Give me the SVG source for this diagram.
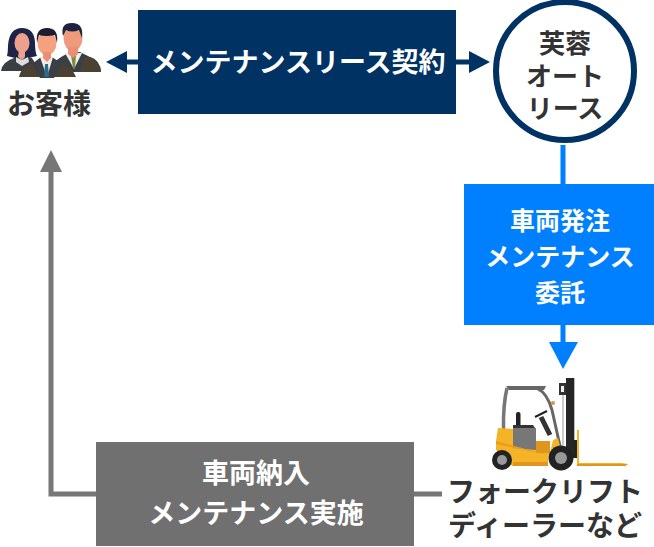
<svg xmlns="http://www.w3.org/2000/svg" width="654" height="547" viewBox="0 0 654 547">
<style>
text{font-family:"Noto Sans CJK JP","Noto Sans",sans-serif;font-weight:700;font-size:27px;text-anchor:middle}
.d{fill:#333}.w{fill:#fff}
.s25{font-size:25px}.s26{font-size:26px}.s28{font-size:28px}
</style>
<rect width="654" height="547" fill="#fff"/>
<g id="connectors" fill="none">
<path d="M138 62H122" stroke="#003264" stroke-width="5"/><path d="M106 62L127 51V73Z" fill="#003264"/>
<path d="M456 62H475" stroke="#003264" stroke-width="5"/><path d="M490 62L469 51V73Z" fill="#003264"/>
<path d="M563 145V350" stroke="#0080ff" stroke-width="5"/><path d="M563 369L549 342H578Z" fill="#0080ff"/>
<path d="M442 494H51V170" stroke="#777" stroke-width="5"/><path d="M51 150L40 172H62Z" fill="#777"/>
</g>
<g id="customer">
<path d="M1 71Q2 62 14 58L22 55L32 58L40 71Z" fill="#3a3f44"/>
<path d="M8 46Q9 28 22 28Q34 28 35 42Q35 52 37 56L28 58H15L7 56Q8 52 8 46Z" fill="#1f2347"/>
<ellipse cx="22" cy="43" rx="7.5" ry="10" fill="#eda18d"/>
<path d="M19 50H25V57L22 60L18 57Z" fill="#eda18d"/>
<path d="M16 57L22 60L28 57L29 62L22 66L16 62Z" fill="#dcdcdc"/>
<path d="M54 62Q62 56 70 52H80L90 57Q100 60 101 72H54Z" fill="#3a3f44"/>
<path d="M84 58L90 57Q100 60 101 72H80Z" fill="#4a4133"/>
<path d="M65 53L74 69L82 53Z" fill="#eee"/>
<path d="M71 55L73 68L75 68L76 55Z" fill="#7d8c3a"/>
<ellipse cx="73" cy="38" rx="9.5" ry="13" fill="#f09a7c"/>
<path d="M63 36Q60 23 72 23Q84 23 82 38L79 30Q72 33 66 30Z" fill="#1e2140"/>
<path d="M68 47H78V54L73 58L68 54Z" fill="#ea8f73"/>
<path d="M19 77Q21 66 36 62L46 58L58 62Q72 66 76 77Z" fill="#4a4133"/>
<path d="M32 64L41 57H52L62 64L54 78H40Z" fill="#3a3f44"/>
<path d="M40 57L47 77L53 57Z" fill="#eee"/>
<path d="M45 64H48L49 77H44Z" fill="#2a6c8e"/>
<ellipse cx="47" cy="43" rx="9.5" ry="12" fill="#f5a07f"/>
<path d="M37 43Q35 28 47 28Q59 28 57 43L55 35Q46 37 39 35Z" fill="#1b1d30"/>
<path d="M43 52H51V58L47 62L43 58Z" fill="#ea8f73"/>
<text class="d s28" x="49" y="114">お客様</text>
</g>
<g id="contract"><rect x="138" y="10" width="318" height="104" fill="#003264"/><text class="w" x="298" y="72">メンテナンスリース契約</text></g>
<g id="lease"><circle cx="565" cy="71" r="69" fill="#fff" stroke="#003264" stroke-width="6"/>
<text class="d s26" x="565" y="53">芙蓉</text><text class="d s26" x="565" y="86">オート</text><text class="d s26" x="565" y="118">リース</text></g>
<g id="order"><rect x="464" y="184" width="190" height="141" fill="#0080ff"/>
<text class="w s25" x="560" y="230">車両発注</text><text class="w s25" x="560" y="266">メンテナンス</text><text class="w s25" x="560" y="302">委託</text></g>
<g id="delivery"><rect x="96" y="442" width="318" height="104" fill="#707070"/>
<text class="w" x="256" y="483">車両納入</text><text class="w" x="256" y="523">メンテナンス実施</text></g>
<g id="dealer">
<path d="M577 430H579V463H622L628 464L625 466H577Z" fill="#f5b427"/>
<path d="M577 464H628L625 466H577Z" fill="#e0961c"/>
<path d="M507 388Q503 405 503.500 430" fill="none" stroke="#777" stroke-width="3.500"/>
<path d="M506 386H546L544 390H509Z" fill="#666"/>
<path d="M538 389Q547 393 552 410L560 446" fill="none" stroke="#666" stroke-width="3"/>
<circle cx="553" cy="403" r="2" fill="#d9913a"/>
<path d="M563 395V445" stroke="#999" stroke-width="1"/>
<rect x="516" y="412" width="4.500" height="15" rx="2" fill="#222"/>
<path d="M513 425H533L535 428H513Z" fill="#333"/>
<path d="M513 428H536V451H513Z" fill="#777"/>
<path d="M535 417L547 411" fill="none" stroke="#222" stroke-width="2"/>
<path d="M541 417L550 435" fill="none" stroke="#333" stroke-width="5"/>
<path d="M536 441H550V454H536Z" fill="#e0961c"/>
<path d="M498 428L513 429V448L536 450V453L550 453L553 440L558 438L560 446L560 455H548V466H512L496 450V441Z" fill="#f5b427"/>
<path d="M496 441L548 455L496 444Z" fill="#e89d1f"/>
<path d="M513 462H548V466H513Z" fill="#e0961c"/>
<rect x="566" y="378" width="8" height="80" fill="#262626"/><rect x="574" y="440" width="3" height="18" fill="#222"/>
<rect x="574" y="378" width="1" height="62" fill="#bbb"/>
<rect x="559" y="383" width="7" height="12" fill="#333"/>
<rect x="561" y="386" width="3" height="6" fill="#eee"/>
<circle cx="502" cy="460" r="10" fill="#222"/><circle cx="502" cy="460" r="5" fill="#999"/>
<circle cx="561" cy="458" r="12.500" fill="#222"/><circle cx="561" cy="458" r="6" fill="#999"/>
<text class="d s28" x="545" y="502">フォークリフト</text><text class="d s28" x="545" y="536">ディーラーなど</text>
</g>
</svg>
